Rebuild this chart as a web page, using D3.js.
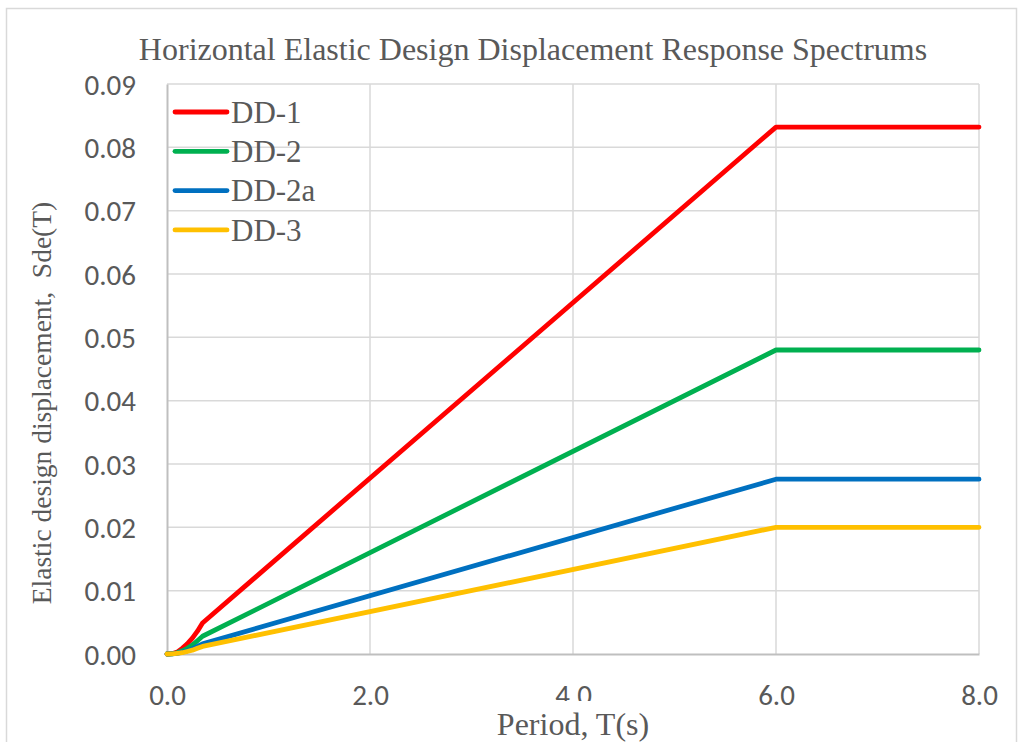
<!DOCTYPE html>
<html>
<head>
<meta charset="utf-8">
<script src="https://cdn.jsdelivr.net/npm/d3@7"></script>
<style>
  html, body { margin: 0; padding: 0; background: #fff; }
  svg { display: block; }
</style>
</head>
<body>
<svg id="chart" width="1021" height="742"></svg>
<script>
// Periods (s) at which the spectra are tabulated
const periods = [0, 0.05, 0.1, 0.15, 0.2, 0.25, 0.3, 0.35, 6, 8];

// Elastic design displacement Sde(T) for each ground type
const dd1  = [0, 0.00005, 0.0003, 0.0009, 0.0016, 0.0025, 0.0036, 0.0049, 0.0832, 0.0832];
const dd2  = [0, 0.00003, 0.0002, 0.0005, 0.0009, 0.0014, 0.0021, 0.0028, 0.0480, 0.0480];
const dd2a = [0, 0.00002, 0.0001, 0.0003, 0.0005, 0.0008, 0.0012, 0.0016, 0.0276, 0.0276];
const dd3  = [0, 0.00001, 0.0001, 0.0002, 0.0004, 0.0006, 0.0009, 0.0012, 0.0200, 0.0200];

const seriesNames = ["DD-1", "DD-2", "DD-2a", "DD-3"];
const seriesColors = ["#ff0000", "#00b050", "#0070c0", "#ffc000"];
const seriesValues = [dd1, dd2, dd2a, dd3];

const xTicks = [0, 2, 4, 6, 8];
const yTicks = [0, 0.01, 0.02, 0.03, 0.04, 0.05, 0.06, 0.07, 0.08, 0.09];

const svg = d3.select("#chart");
const plotLeft = 167, plotRight = 979, plotTop = 84, plotBottom = 654;

// outer chart frame
svg.append("rect")
  .attr("x", 6.5).attr("y", 8.5)
  .attr("width", 1010).attr("height", 760)
  .attr("fill", "#fff").attr("stroke", "#d9d9d9").attr("stroke-width", 1.5);

const x = d3.scaleLinear().domain([0, 8]).range([plotLeft, plotRight]);
const y = d3.scaleLinear().domain([0, 0.09]).range([plotBottom, plotTop]);

const labelFont = "Carlito, Lato, 'Open Sans', sans-serif";
const serifFont = "'Liberation Serif', 'DejaVu Serif', serif";
const textColor = "#595959";

// gridlines
const grid = svg.append("g");
grid.selectAll("line.h").data(yTicks.slice(1)).join("line")
  .attr("x1", plotLeft).attr("x2", plotRight)
  .attr("y1", d => y(d)).attr("y2", d => y(d))
  .attr("stroke", "#d9d9d9").attr("stroke-width", 1.5);
grid.selectAll("line.v").data(xTicks.slice(1)).join("line")
  .attr("x1", d => x(d)).attr("x2", d => x(d))
  .attr("y1", plotTop).attr("y2", plotBottom)
  .attr("stroke", "#d9d9d9").attr("stroke-width", 1.5);

// axes
const xAxis = svg.append("g").attr("transform", `translate(0,${plotBottom})`)
  .call(d3.axisBottom(x).tickValues(xTicks).tickFormat(d3.format(".1f")).tickSize(0).tickPadding(0));
const yAxis = svg.append("g").attr("transform", `translate(${plotLeft},0)`)
  .call(d3.axisLeft(y).tickValues(yTicks).tickFormat(d3.format(".2f")).tickSize(0).tickPadding(31));
[xAxis, yAxis].forEach(a => {
  a.select(".domain").attr("stroke", "#bfbfbf").attr("stroke-width", 2);
  a.selectAll("text").attr("font-family", labelFont).attr("font-size", 29).attr("fill", textColor);
});
xAxis.selectAll("text").attr("dy", null).attr("y", 51);
yAxis.selectAll("text").attr("dy", "0.35em");

// series lines
const line = d3.line().x(d => x(d[0])).y(d => y(d[1]));
svg.append("g").selectAll("path").data(seriesValues).join("path")
  .attr("d", vals => line(periods.map((p, i) => [p, vals[i]])))
  .attr("fill", "none")
  .attr("stroke", (d, i) => seriesColors[i])
  .attr("stroke-width", 4.8)
  .attr("stroke-linejoin", "round")
  .attr("stroke-linecap", "round");

// chart title
svg.append("text")
  .attr("x", 533).attr("y", 60)
  .attr("text-anchor", "middle")
  .attr("font-family", serifFont).attr("font-size", 32).attr("fill", textColor)
  .text("Horizontal Elastic Design Displacement Response Spectrums");

// x-axis title, on its own white box
svg.append("rect").attr("x", 496).attr("y", 701).attr("width", 156).attr("height", 41).attr("fill", "#fff");
svg.append("text")
  .attr("x", 573).attr("y", 735)
  .attr("text-anchor", "middle")
  .attr("font-family", serifFont).attr("font-size", 32).attr("fill", textColor)
  .text("Period, T(s)");

// y-axis title
svg.append("text")
  .attr("transform", "translate(51,403) rotate(-90)")
  .attr("text-anchor", "middle")
  .attr("font-family", serifFont).attr("font-size", 27.5).attr("fill", textColor)
  .attr("xml:space", "preserve")
  .text("Elastic design displacement,  Sde(T)");

// legend
const legend = svg.append("g");
const lg = legend.selectAll("g").data(seriesNames).join("g")
  .attr("transform", (d, i) => `translate(0,${112 + i * 39.3})`);
lg.append("line")
  .attr("x1", 175).attr("x2", 227).attr("y1", 0).attr("y2", 0)
  .attr("stroke", (d, i) => seriesColors[i])
  .attr("stroke-width", 4.8).attr("stroke-linecap", "round");
lg.append("text")
  .attr("x", 231).attr("y", 0).attr("dy", "0.35em")
  .attr("font-family", serifFont).attr("font-size", 31).attr("fill", textColor)
  .text(d => d);
</script>
</body>
</html>
